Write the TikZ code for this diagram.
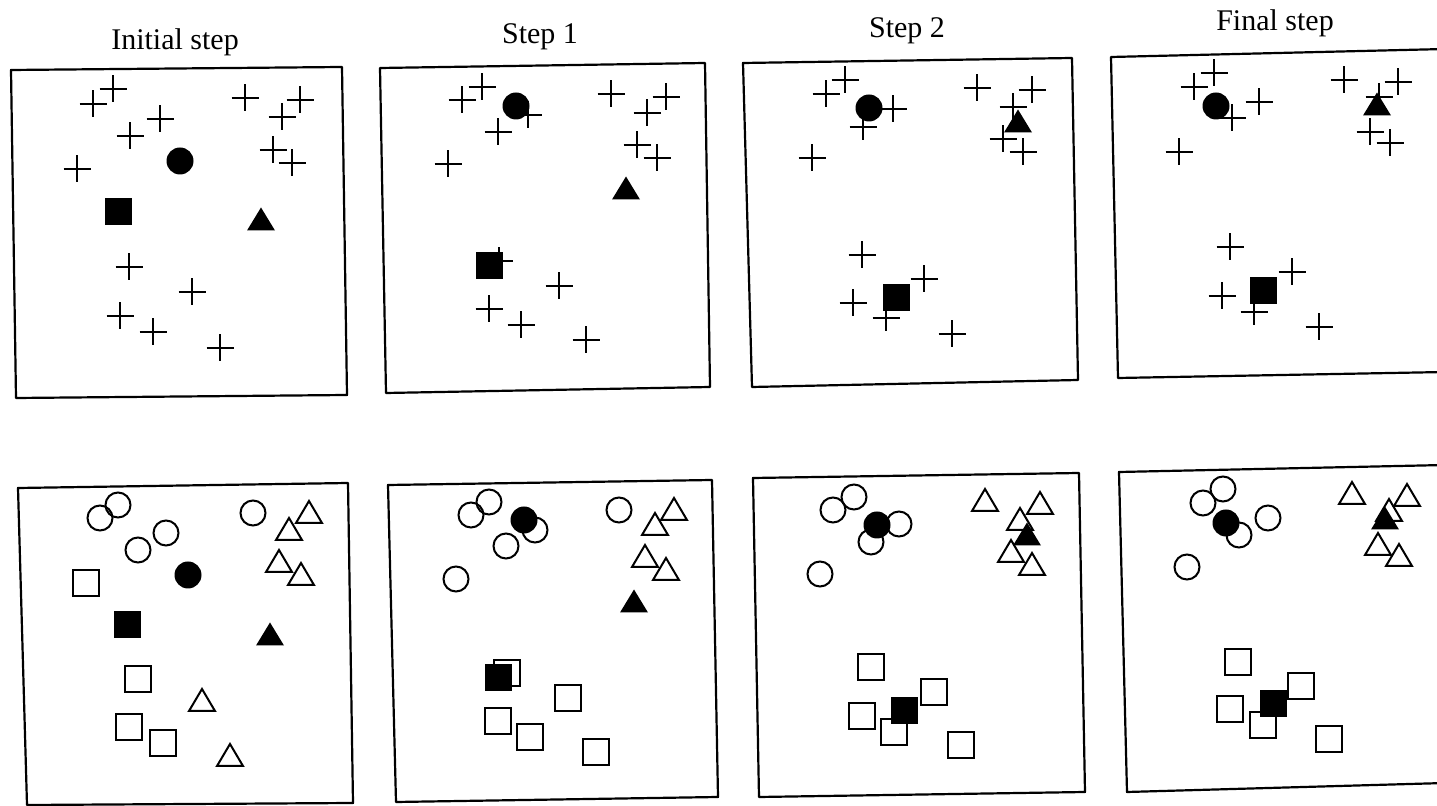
\documentclass[tikz,border=0pt]{standalone}
\usepackage{fontspec}
\setmainfont{Liberation Serif}
\begin{document}
\begin{tikzpicture}[x=0.5pt,y=-0.5pt,
  frame/.style={line width=1.1pt,line join=round},
  ttl/.style={font=\fontsize{15}{18}\selectfont,inner sep=0pt},
  pics/pl/.style={code={\draw[line width=0.9pt] (-13.5,0)--(13.5,0) (0,-13.5)--(0,13.5);}},
  pics/oc/.style={code={\draw[line width=1pt] (0,0) circle[radius=12.5];}},
  pics/fc/.style={code={\fill (0,0) circle[radius=13.5];}},
  pics/os/.style={code={\draw[line width=1pt] (-13,-13) rectangle (13,13);}},
  pics/fs/.style={code={\fill (-13.5,-13.5) rectangle (13.5,13.5);}},
  pics/ot/.style={code={\draw[line width=1pt,line join=miter] (-13,8)--(13,8)--(0,-14)--cycle;}},
  pics/ft/.style={code={\fill (-14,8.5)--(14,8.5)--(0,-14.5)--cycle;}}
]
\useasboundingbox (0,0) rectangle (1437,806);
% titles
\node[ttl] (t1) at (175,42) {Initial step};
\node[ttl] (t2) at (540,37) {Step 1};
\node[ttl] (t3) at (907,31) {Step 2};
\node[ttl] (t4) at (1275,23) {Final step};
% frames
\draw[frame] (11,70)--(342,67)--(347,395)--(16,398)--cycle;
\draw[frame] (380,68)--(705,63)--(710,387)--(386,393)--cycle;
\draw[frame] (743,63)--(1072,58)--(1078,380)--(752,387)--cycle;
\draw[frame] (1111,57)--(1445,49)--(1445,372)--(1118,378)--cycle;
\draw[frame] (18,488)--(348,483)--(353,803)--(27,805)--cycle;
\draw[frame] (388,485)--(712,480)--(718,797)--(396,802)--cycle;
\draw[frame] (753,478)--(1079,473)--(1085,792)--(759,797)--cycle;
\draw[frame] (1119,472)--(1445,465)--(1445,783)--(1127,792)--cycle;
% ---- top row: plus signs
\foreach \p in {(113,89),(93,104),(160,119),(130,136),(77,169),(245,98),(300,100),(282,117),(273,150),(292,163),(129,267),(192,292),(120,316),(153,332),(220,348),
  (482,87),(462,100),(528,115),(498,132),(448,164),(611,94),(666,97),(647,113),(637,145),(657,158),(499,261),(559,286),(489,309),(521,325),(586,340),
  (845,80),(826,94),(893,109),(863,127),(812,158),(977,88),(1032,90),(1013,107),(1003,139),(1023,152),(862,255),(924,279),(853,303),(886,318),(952,334),
  (1214,73),(1194,87),(1259,102),(1232,118),(1179,152),(1344,80),(1398,82),(1379,97),(1370,132),(1390,143),(1230,247),(1292,272),(1222,296),(1254,312),(1319,327)}
  \pic at \p {pl};
% top row: centroids
\foreach \p in {(180,161),(516,106),(869,108),(1216,106)} \pic at \p {fc};
\foreach \p in {(118,212),(489,266),(896,298),(1263,291)} \pic at \p {fs};
\foreach \p in {(261,222),(626,191),(1018,124),(1377,107)} \pic at \p {ft};
% ---- bottom row: open members
\foreach \p in {(118,505),(100,518),(166,533),(138,550),(253,513),
  (489,502),(471,515),(535,530),(506,546),(456,579),(619,510),
  (854,497),(833,510),(899,524),(871,542),(820,574),
  (1223,489),(1203,503),(1268,518),(1239,535),(1187,567)}
  \pic at \p {oc};
\foreach \p in {(309,515),(289,532),(279,564),(301,577),(202,703),(230,758),
  (674,512),(655,527),(645,559),(666,572),
  (985,503),(1040,506),(1020,522),(1011,554),(1032,567),
  (1352,496),(1407,498),(1389,513),(1378,547),(1399,558)}
  \pic at \p {ot};
\foreach \p in {(86,583),(138,679),(129,727),(163,743),
  (507,673),(568,698),(498,721),(530,737),(596,752),
  (871,667),(934,692),(862,716),(894,732),(961,745),
  (1238,662),(1301,686),(1230,709),(1263,725),(1329,739)}
  \pic at \p {os};
% bottom row: centroids
\foreach \p in {(188,575),(524,520),(877,525),(1226,523)} \pic at \p {fc};
\foreach \p in {(127,625),(498,678),(904,711),(1273,704)} \pic at \p {fs};
\foreach \p in {(270,637),(634,604),(1027,537),(1385,521)} \pic at \p {ft};
\end{tikzpicture}
\end{document}
